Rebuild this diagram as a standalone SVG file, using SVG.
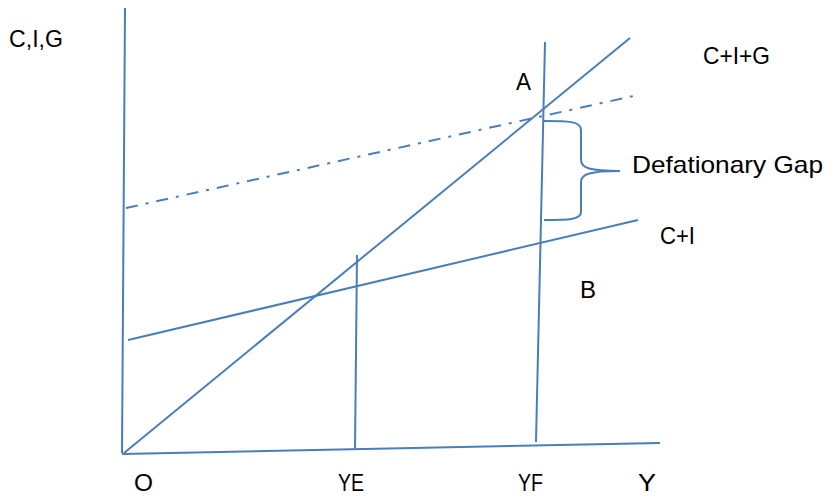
<svg xmlns="http://www.w3.org/2000/svg" width="836" height="498" viewBox="0 0 836 498">
<style>
.ln{stroke:#4A7EBB;stroke-width:2;fill:none}
.dd{stroke-dasharray:12,8,3,8}
text{font-family:"Liberation Sans",Arial,sans-serif;font-size:24px;fill:#000}
</style>
<rect width="836" height="498" fill="#fff"/>
<g id="connectors">
<line class="ln" x1="125" y1="8" x2="122" y2="453"/>
<line class="ln" x1="122" y1="454" x2="660" y2="443"/>
<line class="ln" x1="124" y1="453" x2="630" y2="38"/>
<line class="ln" x1="128" y1="340" x2="638" y2="220"/>
<line class="ln dd" x1="126" y1="208" x2="638" y2="95"/>
<line class="ln" x1="545" y1="42" x2="536" y2="442"/>
<line class="ln" x1="357" y1="255" x2="355" y2="450"/>
<path class="ln" d="M544,121 C568,121 581,121 581,130 L581,160 C581,168 590,171 620,171 C590,171 581,174 581,182 L581,212 C581,220 568,220 544,220"/>
</g>
<g id="labels">
<text x="9" y="47" textLength="54" lengthAdjust="spacingAndGlyphs">C,I,G</text>
<text x="703" y="64" textLength="67" lengthAdjust="spacingAndGlyphs">C+I+G</text>
<text x="516" y="90" textLength="15" lengthAdjust="spacingAndGlyphs">A</text>
<text x="632" y="173" textLength="191" lengthAdjust="spacingAndGlyphs">Defationary Gap</text>
<text x="660" y="244" textLength="35" lengthAdjust="spacingAndGlyphs">C+I</text>
<text x="580" y="298" textLength="16" lengthAdjust="spacingAndGlyphs">B</text>
<text x="134" y="491" textLength="19" lengthAdjust="spacingAndGlyphs">O</text>
<text x="338" y="491" textLength="26" lengthAdjust="spacingAndGlyphs">YE</text>
<text x="518" y="491" textLength="25" lengthAdjust="spacingAndGlyphs">YF</text>
<text x="638" y="491" textLength="18" lengthAdjust="spacingAndGlyphs">Y</text>
</g>
</svg>
